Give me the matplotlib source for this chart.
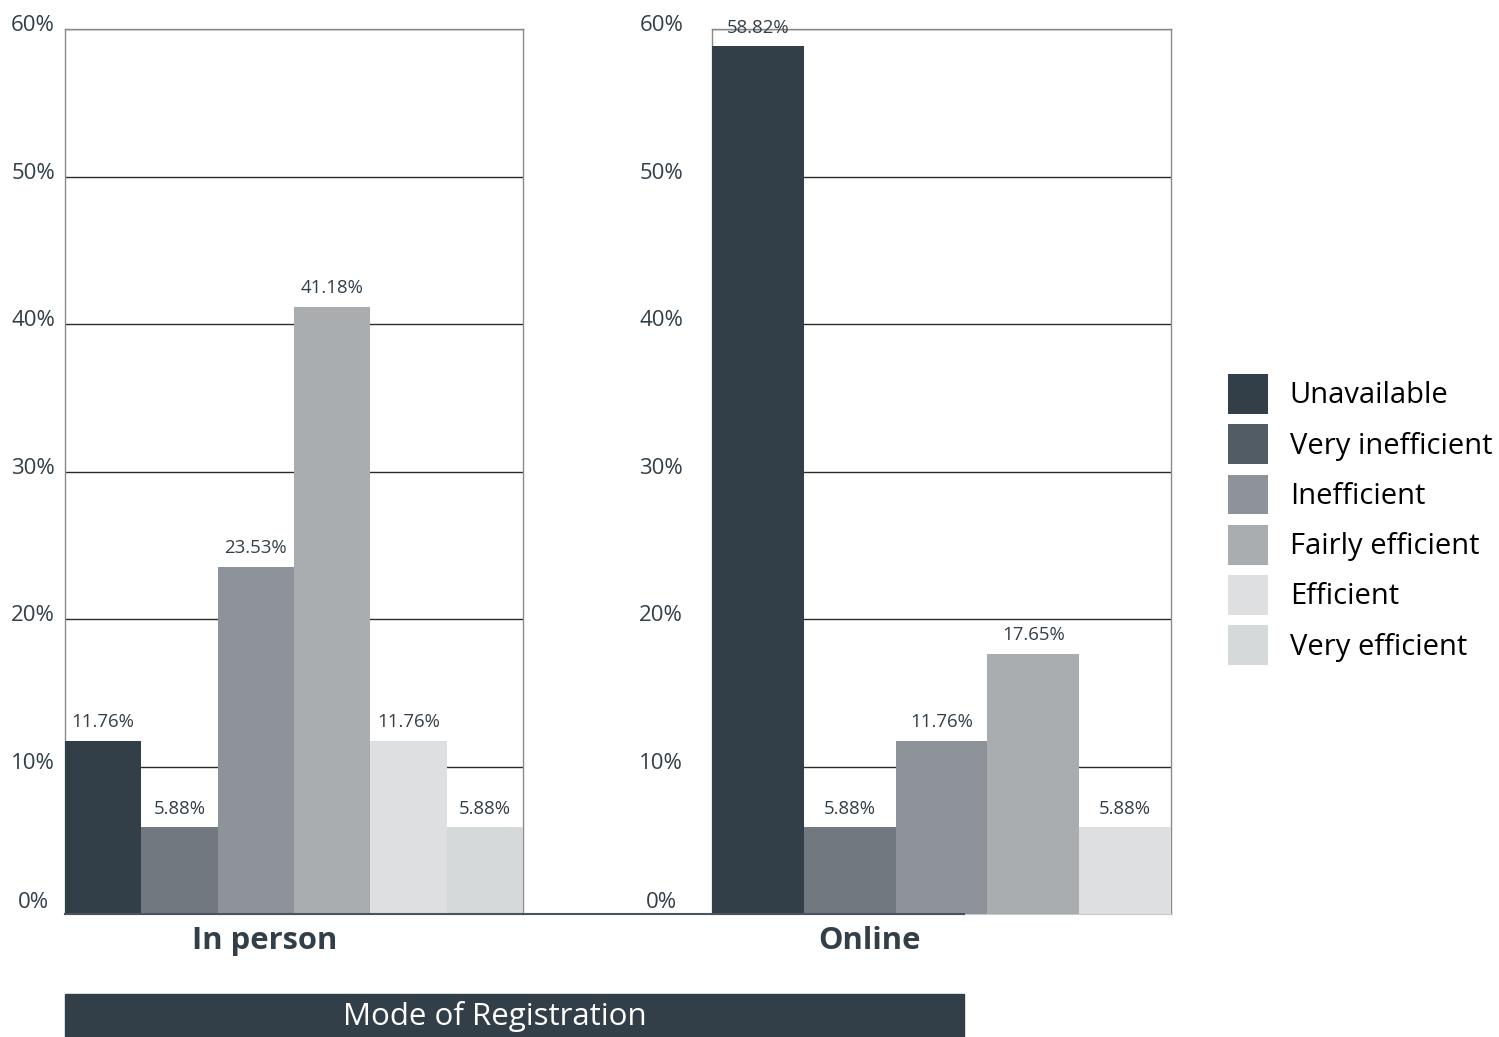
import numpy as np
import matplotlib.pyplot as plt
from matplotlib.patches import Rectangle, Patch
from matplotlib.lines import Line2D
from matplotlib import transforms

plt.rcParams['font.family'] = ['Open Sans', 'DejaVu Sans']

categorias = ["Unavailable", "Very inefficient", "Inefficient",
              "Fairly efficient", "Efficient", "Very efficient"]
cores = ["#323e48", "#71787f", "#8e9299", "#a9adb0", "#dedfe1", "#d5d9d9"]
cor_legenda = ["#323e48", "#525c64", "#8e9299", "#a9adb0", "#dedfe1", "#d5d9d9"]

presencial = [11.76, 5.88, 23.53, 41.18, 11.76, 5.88]   # In person, 6 categorias
online = [58.82, 5.88, 11.76, 17.65, 5.88]               # Online, sem "Very efficient"
paineis = ["In person", "Online"]
yticks = [0, 10, 20, 30, 40, 50, 60]

texto = "#333f48"

fig = plt.figure(figsize=(14.99, 10.37), dpi=100)
W, H = 1499, 1037


def eixo(x0, x1, y0, y1):
    return fig.add_axes([x0 / W, 1 - y1 / H, (x1 - x0) / W, (y1 - y0) / H])


ax1 = eixo(65, 523, 29, 914)
ax2 = eixo(712, 1171, 29, 914)

for ax, dados, pad in [(ax1, presencial, 23), (ax2, online, 36.5)]:
    n = len(dados)
    x = np.arange(n)
    ax.bar(x, dados, width=1.0, color=cores[:n], zorder=3)
    for xi, v in zip(x, dados):
        ax.annotate(f"{v:.2f}%", (xi, v), xytext=(0, 7), textcoords="offset points",
                    ha="center", va="bottom", fontsize=13.4, color=texto, zorder=4)
    ax.set_xlim(-0.5, n - 0.5)
    ax.set_ylim(0, 60)
    ax.set_xticks([])
    ax.set_yticks(yticks)
    ax.set_yticklabels([f"{t}%" for t in yticks])
    ax.yaxis.grid(True, color="#2b2b2b", linewidth=1, zorder=0)
    ax.set_axisbelow(True)
    ax.tick_params(axis="y", length=0, pad=pad, labelsize=16, labelcolor=texto)
    for t, lab in zip(yticks, ax.get_yticklabels()):
        sobe = 10 if t == 0 else 4  # o "0%" fica mais alto no original
        desloc = transforms.ScaledTranslation(0, sobe / 72, fig.dpi_scale_trans)
        lab.set_horizontalalignment("center")
        lab.set_transform(lab.get_transform() + desloc)
    for s in ["top", "left", "right"]:
        ax.spines[s].set_color("#8a8a8a")
        ax.spines[s].set_linewidth(1)
    ax.spines["bottom"].set_color("#c8cbce")

# linha de base escura entre os paineis
fig.add_artist(Line2D([65 / W, 964 / W], [1 - 914 / H, 1 - 914 / H],
                      color="#4a545c", linewidth=1.5))

# rotulos dos paineis
fig.text(265 / W, 1 - 941 / H, paineis[0], ha="center", va="center",
         fontsize=22.3, fontweight="bold", color=texto)
fig.text(869 / W, 1 - 941 / H, paineis[1], ha="center", va="center",
         fontsize=22.3, fontweight="bold", color=texto)

# faixa do titulo
fig.add_artist(Rectangle((65 / W, 0), (964 - 65) / W, 43 / H,
                         transform=fig.transFigure, color=texto))
fig.text(495 / W, 1 - 1016 / H, "Mode of Registration", ha="center", va="center",
         fontsize=22.5, color="white")

# legenda
alcas = [Patch(facecolor=c, edgecolor="none") for c in cor_legenda]
fig.legend(alcas, categorias, loc="upper left", bbox_to_anchor=(1228 / W, 1 - 374 / H),
           frameon=False, fontsize=21, handlelength=1.37, handleheight=1.72,
           labelspacing=0.36, handletextpad=0.75, borderpad=0, borderaxespad=0,
           labelcolor="black")

fig.savefig("out.png", dpi=100)
